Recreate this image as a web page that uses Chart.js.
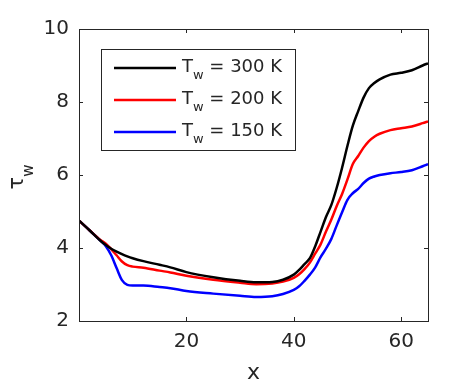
<!DOCTYPE html>
<html>
<head>
<meta charset="utf-8">
<script src="https://cdn.jsdelivr.net/npm/chart.js@4"></script>
<style>
  html, body { margin: 0; padding: 0; background: #ffffff; }
  #chart { display: block; }
</style>
</head>
<body>
<canvas id="chart" width="472" height="384"></canvas>
<script>
// positions along x
const xValues = [0, 2, 4, 5, 6, 7, 8, 9, 10, 12, 15, 17, 20, 25, 30, 33, 36, 38, 40, 41, 42, 43, 44, 45, 46, 47, 48, 49, 50, 51, 52, 53, 54, 55, 56, 58, 60, 62, 64, 65];

// wall shear stress for each wall temperature
const tau300 = [4.75, 4.48, 4.2, 4.08, 3.98, 3.9, 3.83, 3.77, 3.72, 3.64, 3.54, 3.47, 3.34, 3.2, 3.1, 3.06, 3.07, 3.13, 3.27, 3.4, 3.56, 3.72, 4.05, 4.45, 4.85, 5.18, 5.65, 6.2, 6.8, 7.35, 7.75, 8.12, 8.38, 8.52, 8.62, 8.75, 8.8, 8.87, 9.0, 9.06];
const tau200 = [4.75, 4.48, 4.22, 4.12, 3.97, 3.8, 3.63, 3.53, 3.49, 3.46, 3.38, 3.33, 3.24, 3.13, 3.05, 3.01, 3.03, 3.08, 3.18, 3.28, 3.42, 3.6, 3.85, 4.1, 4.45, 4.78, 5.15, 5.48, 5.88, 6.3, 6.52, 6.75, 6.93, 7.05, 7.13, 7.23, 7.28, 7.33, 7.42, 7.47];
const tau150 = [4.75, 4.48, 4.2, 4.05, 3.8, 3.45, 3.12, 2.99, 2.97, 2.97, 2.93, 2.9, 2.82, 2.75, 2.69, 2.66, 2.68, 2.74, 2.85, 2.95, 3.1, 3.27, 3.47, 3.75, 3.98, 4.25, 4.62, 4.98, 5.32, 5.5, 5.62, 5.78, 5.9, 5.96, 6.0, 6.05, 6.08, 6.13, 6.24, 6.3];

const wallTemps = [300, 200, 150];
const seriesColors = ["#000000", "#ff0000", "#0000ff"];

const xTicks = [20, 40, 60];
const yTicks = [2, 4, 6, 8, 10];

const axisColor = "#262626";
const fontFamily = "'DejaVu Sans', sans-serif";

function toPoints(ys) {
    return xValues.map((x, i) => ({ x: x, y: ys[i] }));
}

// box around the axes with inward ticks on all four sides
const axesBox = {
    id: "axesBox",
    afterDatasetsDraw(chart) {
        const ctx = chart.ctx;
        const a = chart.chartArea;
        const xs = chart.scales.x;
        const ys = chart.scales.y;
        const len = 4;
        ctx.save();
        ctx.strokeStyle = axisColor;
        ctx.lineWidth = 1;
        ctx.strokeRect(Math.round(a.left) + 0.5, Math.round(a.top) + 0.5, Math.round(a.right - a.left), Math.round(a.bottom - a.top));
        ctx.beginPath();
        xTicks.forEach(v => {
            const px = Math.round(xs.getPixelForValue(v)) + 0.5;
            ctx.moveTo(px, a.bottom); ctx.lineTo(px, a.bottom - len);
            ctx.moveTo(px, a.top); ctx.lineTo(px, a.top + len);
        });
        yTicks.forEach(v => {
            const py = Math.round(ys.getPixelForValue(v)) + 0.5;
            ctx.moveTo(a.left, py); ctx.lineTo(a.left + len, py);
            ctx.moveTo(a.right, py); ctx.lineTo(a.right - len, py);
        });
        ctx.stroke();
        ctx.restore();
    }
};

// legend and y label need subscripts, so they are drawn here
const subscriptText = {
    id: "subscriptText",
    afterDraw(chart) {
        const ctx = chart.ctx;
        ctx.save();

        // legend box
        const bx = 101, by = 49, bw = 194, bh = 101;
        ctx.fillStyle = "#ffffff";
        ctx.fillRect(bx, by, bw, bh);
        ctx.strokeStyle = axisColor;
        ctx.lineWidth = 1;
        ctx.strokeRect(bx + 0.5, by + 0.5, bw, bh);

        chart.data.datasets.forEach((ds, i) => {
            const ly = 68 + i * 32;
            ctx.strokeStyle = ds.borderColor;
            ctx.lineWidth = ds.borderWidth;
            ctx.beginPath();
            ctx.moveTo(114, ly);
            ctx.lineTo(176, ly);
            ctx.stroke();

            ctx.fillStyle = axisColor;
            ctx.textBaseline = "alphabetic";
            ctx.textAlign = "left";
            ctx.font = "18px " + fontFamily;
            ctx.fillText("T", 182, ly + 4);
            const tw = ctx.measureText("T").width;
            ctx.font = "13px " + fontFamily;
            ctx.fillText("w", 182 + tw, ly + 11);
            const ww = ctx.measureText("w").width;
            ctx.font = "18px " + fontFamily;
            ctx.fillText(" = " + wallTemps[i] + " K", 182 + tw + ww, ly + 4);
        });

        // y axis label
        ctx.translate(23, 177);
        ctx.rotate(-Math.PI / 2);
        ctx.fillStyle = axisColor;
        ctx.textBaseline = "alphabetic";
        ctx.font = "21px " + fontFamily;
        const t = ctx.measureText("\u03c4").width;
        ctx.font = "15px " + fontFamily;
        const w = ctx.measureText("w").width;
        const start = -(t + w) / 2;
        ctx.font = "21px " + fontFamily;
        ctx.textAlign = "left";
        ctx.fillText("\u03c4", start, 0);
        ctx.font = "15px " + fontFamily;
        ctx.fillText("w", start + t, 10);

        ctx.restore();
    }
};

const ctx = document.getElementById("chart").getContext("2d");

new Chart(ctx, {
    type: "line",
    data: {
        datasets: wallTemps.map((T, i) => ({
            label: "T_w = " + T + " K",
            data: toPoints([tau300, tau200, tau150][i]),
            borderColor: seriesColors[i],
            borderWidth: 2.5,
            pointRadius: 0,
            tension: 0.4,
            cubicInterpolationMode: "monotone",
            fill: false
        }))
    },
    options: {
        responsive: false,
        animation: false,
        layout: { padding: { left: 0, right: 44, top: 29, bottom: 0 } },
        plugins: {
            legend: { display: false },
            tooltip: { enabled: false }
        },
        scales: {
            x: {
                type: "linear",
                min: 0,
                max: 65,
                afterBuildTicks: scale => { scale.ticks = xTicks.map(v => ({ value: v })); },
                afterFit: scale => { scale.height = 63; },
                grid: { display: false, drawTicks: false },
                border: { display: false },
                ticks: {
                    color: axisColor,
                    font: { family: fontFamily, size: 20 },
                    padding: 9,
                    maxRotation: 0
                },
                title: {
                    display: true,
                    text: "x",
                    color: axisColor,
                    font: { family: fontFamily, size: 22 },
                    padding: { top: 0, bottom: -2 }
                }
            },
            y: {
                min: 2,
                max: 10,
                afterBuildTicks: scale => { scale.ticks = yTicks.map(v => ({ value: v })); },
                afterFit: scale => { scale.width = 79; },
                grid: { display: false, drawTicks: false },
                border: { display: false },
                ticks: {
                    color: axisColor,
                    font: { family: fontFamily, size: 20 },
                    padding: 10
                }
            }
        }
    },
    plugins: [axesBox, subscriptText]
});
</script>
</body>
</html>
